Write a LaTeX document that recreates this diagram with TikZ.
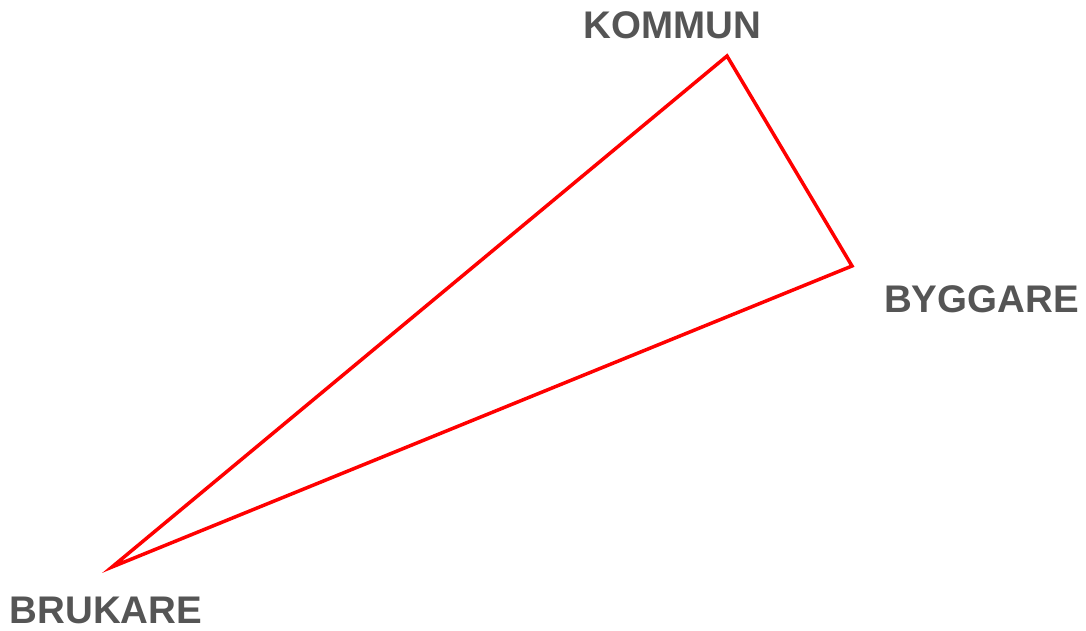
\documentclass[tikz,border=0pt]{standalone}
\usepackage{fontspec}
\setmainfont{Liberation Sans}
\begin{document}
\begin{tikzpicture}[x=1pt,y=1pt,
  lbl/.style={inner sep=0pt, text=labelgray, font=\fontsize{38.5}{42}\selectfont\bfseries},
  edge/.style={draw=red, line width=3.5pt, line join=miter}]
\definecolor{labelgray}{HTML}{555555}
\useasboundingbox (0,0) rectangle (1086,630);
\coordinate (k) at (727,574);
\coordinate (by) at (852,364);
\coordinate (br) at (112,63);
\draw[edge] (k) -- (by) -- (br) -- cycle;
\node[lbl] (kl) at (672.5,604.5) {KOMMUN};
\node[lbl] (byl) at (981.5,330.5) {BYGGARE};
\node[lbl] (brl) at (106,20) {BRUKARE};
\end{tikzpicture}
\end{document}
